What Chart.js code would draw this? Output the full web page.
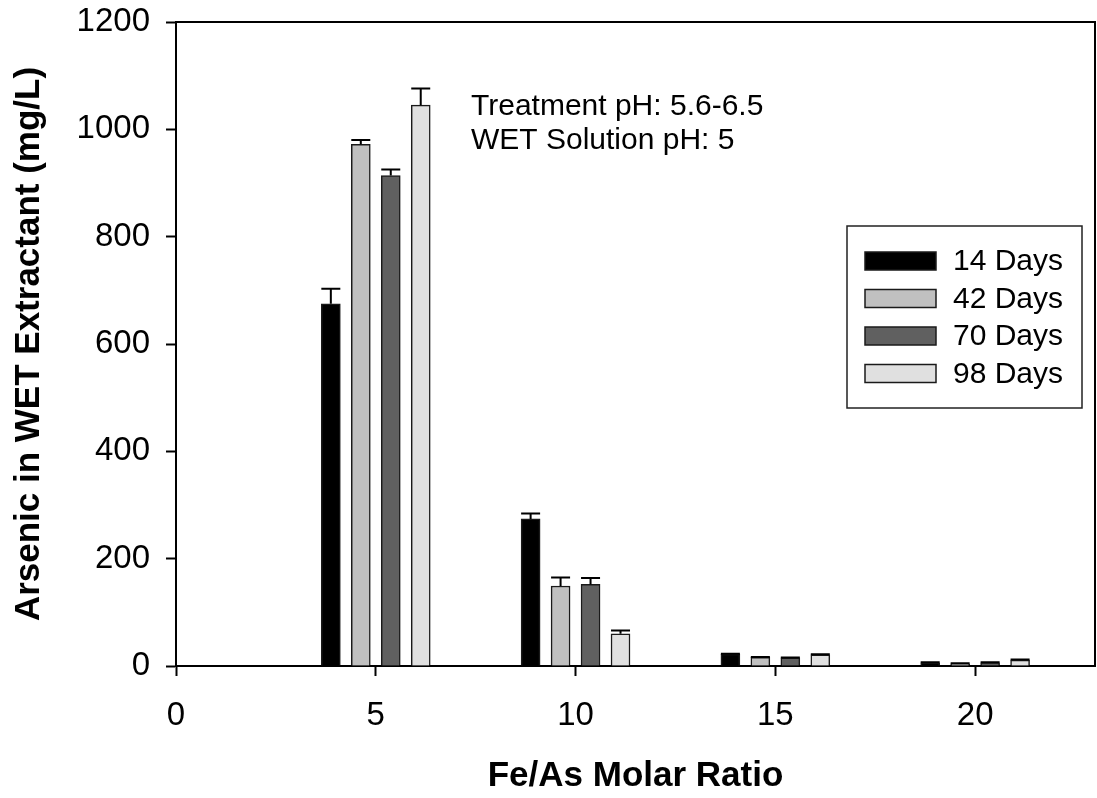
<!DOCTYPE html>
<html>
<head>
<meta charset="utf-8">
<script src="https://cdn.jsdelivr.net/npm/chart.js@4/dist/chart.umd.min.js"></script>
<style>
  html, body { margin: 0; padding: 0; background: #fff; }
  #wrap { width: 1097px; height: 798px; }
</style>
</head>
<body>
<div id="wrap"><canvas id="myChart" width="1097" height="798"></canvas></div>
<script>
// Fe/As molar ratios (x positions of the groups)
var ratios = [5, 10, 15, 20];
var seriesNames = ["14 Days", "42 Days", "70 Days", "98 Days"];

// arsenic in WET extractant (mg/L)
var days14 = [675, 274, 22, 6];
var days42 = [972, 149, 16, 4];
var days70 = [914, 152, 15, 6];
var days98 = [1045, 60, 21, 11];

// upper error bars (mg/L)
var err14 = [28, 10, 1, 1];
var err42 = [8, 16, 1, 1];
var err70 = [11, 12, 1, 1];
var err98 = [31, 6, 1, 1];

var xTicks = [0, 5, 10, 15, 20];
var yTicks = [0, 200, 400, 600, 800, 1000, 1200];

var noteLines = ["Treatment pH: 5.6-6.5", "WET Solution pH: 5"];

// bar placement around each ratio and styling
var barOffsets = [-1.125, -0.375, 0.375, 1.125];
var fills = ["#000000", "#c0c0c0", "#606060", "#e0e0e0"];
var values = [days14, days42, days70, days98];
var errors = [err14, err42, err70, err98];

Chart.defaults.font.family = '"Liberation Sans", Arial, sans-serif';
Chart.defaults.color = "#000";

var datasets = seriesNames.map(function (name, i) {
    return {
        label: name,
        data: ratios.map(function (r, j) { return { x: r + barOffsets[i], y: values[i][j] }; }),
        errors: errors[i],
        backgroundColor: fills[i],
        borderColor: "#1a1a1a",
        borderWidth: 1.5,
        barThickness: 19,
        grouped: false
    };
});

var errorBars = {
    id: "errorBars",
    afterDatasetsDraw: function (chart) {
        var ctx = chart.ctx;
        var yScale = chart.scales.y;
        ctx.save();
        ctx.strokeStyle = "#000";
        ctx.lineWidth = 2;
        chart.data.datasets.forEach(function (ds, i) {
            var meta = chart.getDatasetMeta(i);
            meta.data.forEach(function (bar, j) {
                var top = yScale.getPixelForValue(ds.data[j].y + ds.errors[j]);
                var half = bar.width / 2;
                ctx.beginPath();
                ctx.moveTo(bar.x, bar.y);
                ctx.lineTo(bar.x, top);
                ctx.moveTo(bar.x - half, top);
                ctx.lineTo(bar.x + half, top);
                ctx.stroke();
            });
        });
        ctx.restore();
    }
};

var frame = {
    id: "frame",
    afterDraw: function (chart) {
        var a = chart.chartArea;
        var ctx = chart.ctx;
        ctx.save();
        ctx.strokeStyle = "#000";
        ctx.lineWidth = 2;
        ctx.beginPath();
        ctx.moveTo(a.left - 1, a.top);
        ctx.lineTo(a.right, a.top);
        ctx.lineTo(a.right, a.bottom);
        ctx.stroke();

        // note text
        ctx.fillStyle = "#000";
        ctx.font = '30px "Liberation Sans", Arial, sans-serif';
        ctx.textBaseline = "alphabetic";
        ctx.textAlign = "left";
        noteLines.forEach(function (t, k) {
            ctx.fillText(t, 471, 115 + k * 34);
        });

        // legend box
        ctx.lineWidth = 1.5;
        ctx.strokeStyle = "#222";
        ctx.strokeRect(847, 226, 235, 182);
        chart.data.datasets.forEach(function (ds, i) {
            var cy = 261 + i * 37.5;
            ctx.fillStyle = ds.backgroundColor;
            ctx.fillRect(865, cy - 9, 71, 18);
            ctx.strokeStyle = "#1a1a1a";
            ctx.lineWidth = 1.5;
            ctx.strokeRect(865, cy - 9, 71, 18);
            ctx.fillStyle = "#000";
            ctx.textBaseline = "middle";
            ctx.fillText(ds.label, 953, cy + 1);
        });
        ctx.restore();
    }
};

var ctx = document.getElementById("myChart").getContext("2d");
var myChart = new Chart(ctx, {
    type: "bar",
    data: { datasets: datasets },
    options: {
        responsive: false,
        animation: false,
        layout: { padding: { top: 22, right: 2, left: 0, bottom: 0 } },
        plugins: {
            legend: { display: false },
            tooltip: { enabled: false }
        },
        scales: {
            x: {
                type: "linear",
                min: 0,
                max: 23,
                offset: false,
                afterBuildTicks: function (scale) {
                    scale.ticks = xTicks.map(function (v) { return { value: v }; });
                },
                afterFit: function (scale) {
                    scale.height = 132;
                    scale.paddingLeft = 0;
                    scale.paddingRight = 0;
                },
                grid: { offset: false, drawOnChartArea: false, drawTicks: true, tickLength: 10, tickWidth: 2, tickColor: "#000" },
                border: { display: true, color: "#000", width: 2 },
                ticks: {
                    font: { size: 33 }, padding: 20, maxRotation: 0, autoSkip: false,
                    callback: function (v) { return String(v); }
                },
                title: {
                    display: true,
                    text: "Fe/As Molar Ratio",
                    font: { size: 35, weight: "bold" },
                    padding: { top: 0, bottom: 1 }
                }
            },
            y: {
                min: 0,
                max: 1200,
                afterBuildTicks: function (scale) {
                    scale.ticks = yTicks.map(function (v) { return { value: v }; });
                },
                afterFit: function (scale) {
                    scale.width = 176;
                    scale.paddingTop = 0;
                    scale.paddingBottom = 0;
                },
                grid: { drawOnChartArea: false, drawTicks: true, tickLength: 10, tickWidth: 2, tickColor: "#000" },
                border: { display: true, color: "#000", width: 2 },
                ticks: {
                    font: { size: 33 }, padding: 16,
                    callback: function (v) { return String(v); }
                },
                title: {
                    display: true,
                    text: "Arsenic in WET Extractant (mg/L)",
                    font: { size: 35, weight: "bold" },
                    padding: { top: 8, bottom: 0 }
                }
            }
        }
    },
    plugins: [errorBars, frame]
});
</script>
</body>
</html>
